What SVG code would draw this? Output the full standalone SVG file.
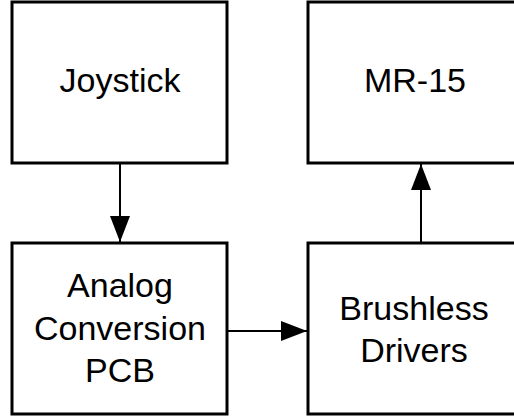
<svg xmlns="http://www.w3.org/2000/svg" width="514" height="417" viewBox="0 0 514 417">
<defs>
<style>
.box{fill:#fff;stroke:#000;stroke-width:3}
.lbl{font-family:"Liberation Sans",Arial,sans-serif;font-size:34px;fill:#000;text-anchor:middle}
.con{stroke:#000;stroke-width:2;fill:none}
</style>
<marker id="ah" markerUnits="userSpaceOnUse" markerWidth="26" markerHeight="20" refX="26" refY="10" orient="auto" viewBox="0 0 26 20">
<path d="M0,0 L26,10 L0,20 Z" fill="#000"/>
</marker>
</defs>
<rect width="514" height="417" fill="#fff"/>
<g id="joystick">
<rect class="box" x="12" y="2" width="215" height="161"/>
<text class="lbl" x="120" y="92">Joystick</text>
</g>
<g id="mr15">
<rect class="box" x="308" y="2" width="215" height="161"/>
<text class="lbl" x="415" y="92">MR-15</text>
</g>
<g id="analog">
<rect class="box" x="12" y="243" width="215" height="171"/>
<text class="lbl" x="120" y="297">Analog</text>
<text class="lbl" x="120" y="339.5">Conversion</text>
<text class="lbl" x="120" y="382">PCB</text>
</g>
<g id="brushless">
<rect class="box" x="308" y="243" width="215" height="171"/>
<text class="lbl" x="414" y="320">Brushless</text>
<text class="lbl" x="414" y="362">Drivers</text>
</g>
<g id="connectors">
<line class="con" x1="120" y1="164" x2="120" y2="242" marker-end="url(#ah)"/>
<line class="con" x1="421" y1="242" x2="421" y2="164" marker-end="url(#ah)"/>
<line class="con" x1="228" y1="331" x2="307" y2="331" marker-end="url(#ah)"/>
</g>
</svg>
